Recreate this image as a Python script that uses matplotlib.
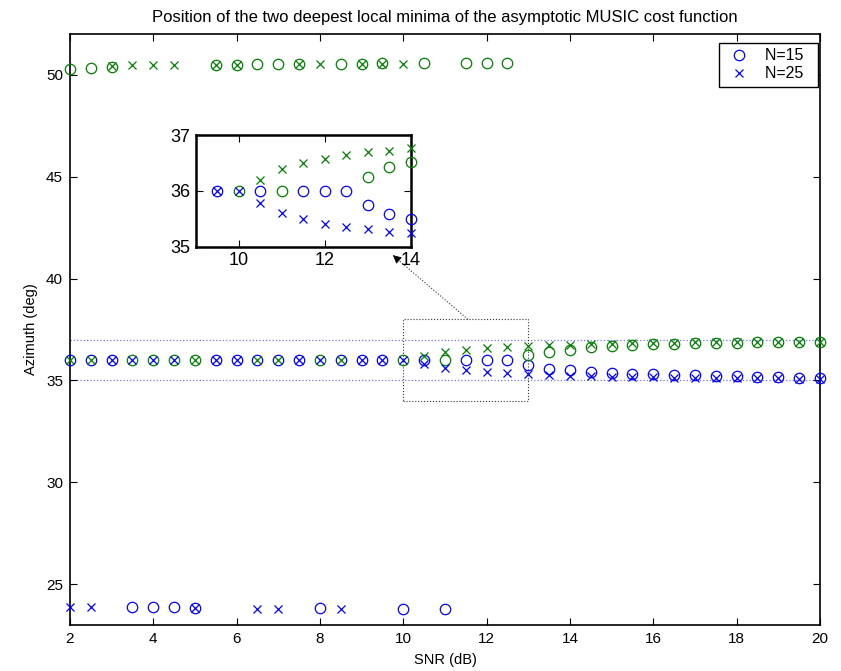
import matplotlib
matplotlib.use("Agg")
import matplotlib.pyplot as plt
import numpy as np
from matplotlib.lines import Line2D
from matplotlib.patches import Rectangle

plt.rcParams['font.family'] = ['Liberation Sans', 'DejaVu Sans']

# SNR grid (dB)
snr = [2, 2.5, 3, 3.5, 4, 4.5, 5, 5.5, 6, 6.5, 7, 7.5, 8, 8.5, 9, 9.5, 10, 10.5,
       11, 11.5, 12, 12.5, 13, 13.5, 14, 14.5, 15, 15.5, 16, 16.5, 17, 17.5, 18,
       18.5, 19, 19.5, 20]

# N=15, first minimum (blue circles)
n15_min1 = [36, 36, 36, 23.89, 23.89, 23.89, 23.85, 36, 36, 36, 36, 36, 23.82,
            36, 36, 36, 23.77, 36, 23.8, 36, 36, 36, 35.74, 35.58, 35.5, 35.43,
            35.38, 35.34, 35.3, 35.27, 35.25, 35.22, 35.2, 35.17, 35.16, 35.14,
            35.13]
# N=15, second minimum (green circles)
n15_min2 = [50.28, 50.33, 50.38, 36, 36, 36, 36, 50.5, 50.5, 50.54, 50.54, 50.54,
            36, 50.55, 50.55, 50.56, 36, 50.56, 36, 50.57, 50.57, 50.57, 36.25,
            36.42, 36.51, 36.62, 36.68, 36.73, 36.77, 36.8, 36.82, 36.84, 36.86,
            36.87, 36.88, 36.89, 36.9]
# N=25, first minimum (blue crosses)
n25_min1 = [23.86, 23.86, 36, 36, 36, 36, 23.85, 36, 36, 23.78, 23.78, 36, 36,
            23.8, 36, 36, 36, 35.79, 35.6, 35.49, 35.41, 35.36, 35.31, 35.26,
            35.24, 35.21, 35.19, 35.17, 35.16, 35.14, 35.13, 35.12, 35.11, 35.1,
            35.1, 35.09, 35.09]
# N=25, second minimum (green crosses)
n25_min2 = [36, 36, 50.45, 50.49, 50.49, 50.5, 36, 50.5, 50.5, 36, 36, 50.52,
            50.53, 36, 50.54, 50.55, 50.55, 36.2, 36.39, 36.5, 36.57, 36.64,
            36.69, 36.72, 36.76, 36.79, 36.81, 36.83, 36.85, 36.86, 36.87, 36.88,
            36.89, 36.9, 36.9, 36.91, 36.91]

x_ticks = [2, 4, 6, 8, 10, 12, 14, 16, 18, 20]
y_ticks = [25, 30, 35, 40, 45, 50]
inset_xticks = [10, 12, 14]
inset_yticks = [35, 36, 37]

BLUE = (0, 0, 1)
GREEN = (0, 0.5, 0)

snr = np.array(snr)
series = [
    (np.array(n15_min1), 'o', BLUE, 7.5),
    (np.array(n15_min2), 'o', GREEN, 7.5),
    (np.array(n25_min1), 'x', BLUE, 6),
    (np.array(n25_min2), 'x', GREEN, 6),
]


def draw(ax, xlim, ylim, xmin_open=False):
    for y, m, c, ms in series:
        lo = (snr > xlim[0]) if xmin_open else (snr >= xlim[0])
        keep = lo & (snr <= xlim[1]) & (y >= ylim[0]) & (y <= ylim[1])
        ax.plot(snr[keep], y[keep], m, color=c, markerfacecolor='none',
                markersize=ms, markeredgewidth=0.9, clip_on=False, zorder=3)
    ax.set_xlim(xlim)
    ax.set_ylim(ylim)


def style(ax, size, lw, pad=5):
    ax.tick_params(direction='in', top=True, right=True, length=5,
                   width=0.8, labelsize=size, pad=pad)
    for s in ax.spines.values():
        s.set_linewidth(lw)


fig = plt.figure(figsize=(8.41, 6.71), dpi=100)
ax = fig.add_axes([0.0832, 0.0686, 0.8918, 0.8807])
draw(ax, (2, 20), (23, 52))

# zoom window markers
ax.axhline(35, color=BLUE, ls=':', lw=0.9, alpha=0.55, zorder=1)
ax.axhline(37, color=BLUE, ls=':', lw=0.9, alpha=0.55, zorder=1)
ax.add_patch(Rectangle((10, 34), 3, 4, fill=False, ls=':', lw=0.8,
                       edgecolor='k', alpha=0.8, zorder=2))
ax.plot([11.55, 9.83], [38.0, 41.0], ':', color='k', lw=0.8, alpha=0.8)
ax.annotate('', xy=(9.75, 41.15), xytext=(9.85, 40.97),
            arrowprops=dict(arrowstyle='-|>', color='k', lw=0.5,
                            mutation_scale=13, shrinkA=0, shrinkB=0))

ax.set_xticks(x_ticks)
ax.set_yticks(y_ticks)
style(ax, 11, 1.2)
ax.set_xlabel('SNR (dB)', fontsize=10.5, labelpad=5)
ax.set_ylabel('Azimuth (deg)', fontsize=10.5, labelpad=6)
ax.set_title('Position of the two deepest local minima of the asymptotic MUSIC cost function',
             fontsize=12, pad=9)

handles = [Line2D([], [], ls='none', marker='o', color=BLUE, markerfacecolor='none',
                  markersize=7.5, markeredgewidth=0.9),
           Line2D([], [], ls='none', marker='x', color=BLUE,
                  markersize=6, markeredgewidth=0.9)]
ax.legend(handles, ['N=15  ', 'N=25  '], loc='upper right',
          bbox_to_anchor=(0.9727, 0.9364), bbox_transform=fig.transFigure,
          borderaxespad=0, fancybox=False, edgecolor='k', framealpha=1,
          fontsize=11.5, handlelength=1.9, labelspacing=0.2,
          borderpad=0.35, handletextpad=0.66)

# inset zoom
ins = fig.add_axes([0.233, 0.6323, 0.2553, 0.1665])
draw(ins, (9, 14), (35, 37), xmin_open=True)
ins.set_xticks(inset_xticks)
ins.set_yticks(inset_yticks)
style(ins, 13, 1.8, pad=4)

fig.savefig('out.png', dpi=100)
